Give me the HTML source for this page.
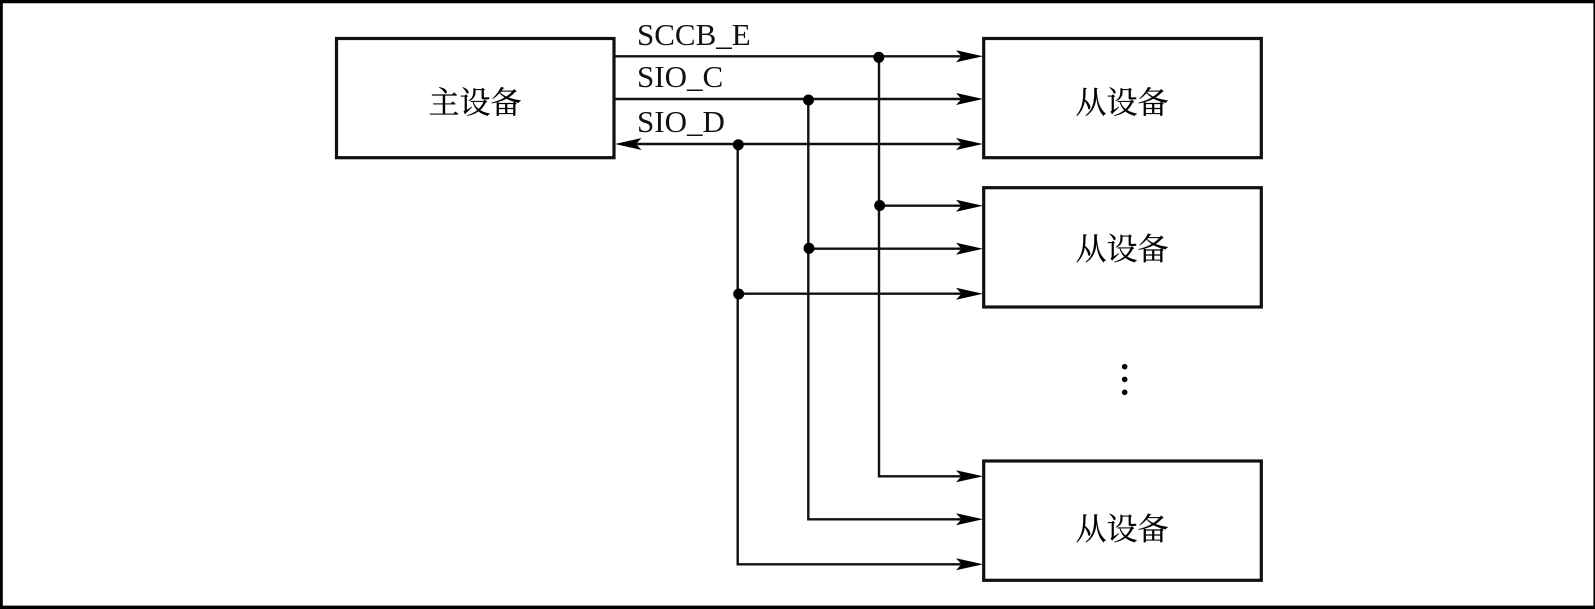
<!DOCTYPE html>
<html lang="zh">
<head>
<meta charset="utf-8">
<title>SCCB</title>
<style>
html,body{margin:0;padding:0;background:#fff;width:1595px;height:609px;overflow:hidden}
svg{display:block}
.l{font-family:"Liberation Serif",serif;font-size:31px;fill:#111}
.c{font-family:"Liberation Serif","Noto Serif CJK SC",serif;font-size:31px;fill:#000;stroke:#000;stroke-width:.25px}
</style>
</head>
<body>
<svg width="1595" height="609" viewBox="0 0 1595 609" xmlns="http://www.w3.org/2000/svg">
<defs>
<path id="a" d="M1 0L-26 -6L-20.5 0L-26 6Z" fill="#000"/>
<circle id="d" r="5.5" fill="#000"/>
</defs>
<rect width="1595" height="609" fill="#fff"/>
<!-- outer border -->
<path d="M0 0H1595V609H0Z M2.8 3.3V605.6H1593.4V3.3Z" fill="#000" fill-rule="evenodd"/>
<!-- boxes -->
<g fill="none" stroke="#111" stroke-width="3.2">
<rect x="336.5" y="38.5" width="277.5" height="119.2"/>
<rect x="983.7" y="38.5" width="277.6" height="119.2"/>
<rect x="983.7" y="187.7" width="277.6" height="119.3"/>
<rect x="983.7" y="461" width="277.6" height="119.3"/>
</g>
<!-- connectors -->
<g fill="none" stroke="#111" stroke-width="2.4">
<path d="M614 56.3H965"/>
<path d="M614 99H965"/>
<path d="M636 144H965"/>
<path d="M879 57V476.3H965"/>
<path d="M808.3 100V519.3H965"/>
<path d="M737.7 144.5V564.3H965"/>
<path d="M879 205.7H965"/>
<path d="M808.3 248.7H965"/>
<path d="M737.7 293.7H965"/>
</g>
<!-- arrowheads -->
<use href="#a" x="982" y="56.3"/>
<use href="#a" x="982" y="99"/>
<use href="#a" x="982" y="144"/>
<use href="#a" x="982" y="205.7"/>
<use href="#a" x="982" y="248.7"/>
<use href="#a" x="982" y="293.7"/>
<use href="#a" x="982" y="476.3"/>
<use href="#a" x="982" y="519.3"/>
<use href="#a" x="982" y="564.3"/>
<path d="M615 144L641.5 138L636 144L641.5 150Z" fill="#000"/>
<!-- junctions -->
<use href="#d" x="878.8" y="57.3"/>
<use href="#d" x="808.5" y="100"/>
<use href="#d" x="738.3" y="144.7"/>
<use href="#d" x="879.7" y="205.5"/>
<use href="#d" x="809" y="248.3"/>
<use href="#d" x="738.7" y="294"/>
<!-- ellipsis dots -->
<circle cx="1124.7" cy="366.7" r="2.8" fill="#000"/>
<circle cx="1124.7" cy="379.4" r="2.8" fill="#000"/>
<circle cx="1124.7" cy="392.3" r="2.8" fill="#000"/>
<!-- labels -->
<text class="l" x="637" y="45">SCCB_E</text>
<text class="l" x="637" y="87">SIO_C</text>
<text class="l" x="637" y="132">SIO_D</text>
<text class="c" x="428.5" y="113.5">主设备</text>
<text class="c" x="1075.5" y="113.5">从设备</text>
<text class="c" x="1075.5" y="260">从设备</text>
<text class="c" x="1075.5" y="540">从设备</text>
</svg>
</body>
</html>
